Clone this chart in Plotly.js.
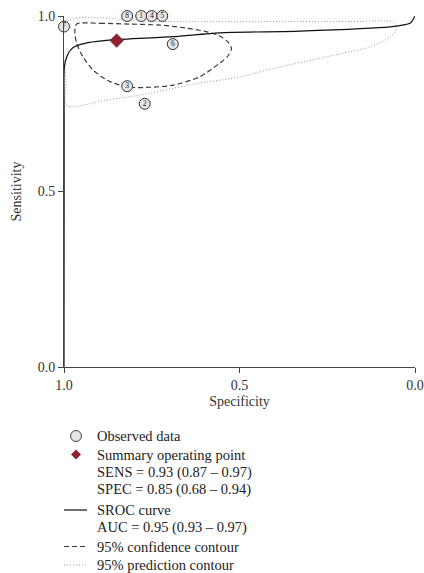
<!DOCTYPE html>
<html>
<head>
<meta charset="utf-8">
<script src="https://cdn.plot.ly/plotly-3.0.1.min.js"></script>
<style>html,body{margin:0;padding:0;background:#fff;}#chart{width:424px;height:573px;}</style>
</head>
<body>
<div id="chart"></div>
<script>
// Observed studies
const studyLabels = ['1','2','3','4','5','6','7','8'];
const studySpec   = [0.78, 0.77, 0.82, 0.75, 0.72, 0.69, 1.00, 0.82];
const studySens   = [1.00, 0.75, 0.80, 1.00, 1.00, 0.92, 0.97, 1.00];

// Summary operating point
const summarySpec = [0.85];
const summarySens = [0.93];

// SROC curve
const srocSpec = [1.000, 0.9995, 0.999, 0.992, 0.983, 0.969, 0.931, 0.864, 0.689, 0.556, 0.328, 0.071, 0.014, 0.000];
const srocSens = [0.000, 0.700, 0.855, 0.884, 0.901, 0.913, 0.924, 0.932, 0.941, 0.952, 0.957, 0.969, 0.979, 1.000];

// 95% confidence contour
const confSpec = [0.964, 0.897, 0.812, 0.726, 0.655, 0.593, 0.556, 0.533, 0.523, 0.533, 0.556, 0.613, 0.689, 0.755, 0.812, 0.869, 0.917, 0.946, 0.964, 0.969, 0.964];
const confSens = [0.977, 0.979, 0.977, 0.974, 0.966, 0.955, 0.943, 0.926, 0.908, 0.886, 0.866, 0.827, 0.803, 0.797, 0.797, 0.813, 0.846, 0.884, 0.923, 0.952, 0.977];

// 95% prediction contour
const predSpec = [0.993, 0.755, 0.470, 0.185, 0.060, 0.052, 0.071, 0.128, 0.205, 0.423, 0.499, 0.613, 0.783, 0.878, 0.992, 0.994, 0.993];
const predSens = [0.983, 0.984, 0.984, 0.984, 0.982, 0.966, 0.940, 0.912, 0.894, 0.846, 0.826, 0.809, 0.775, 0.761, 0.744, 0.818, 0.983];

// Legend text lines (key type per line: circle, diamond, none, solid, dash, dot)
const legendLines = [
  'Observed data',
  'Summary operating point',
  'SENS = 0.93 (0.87 \u2013 0.97)',
  'SPEC = 0.85 (0.68 \u2013 0.94)',
  'SROC curve',
  'AUC = 0.95 (0.93 \u2013 0.97)',
  '95% confidence contour',
  '95% prediction contour'
];
const legendKeys = ['circle', 'diamond', '', '', 'solid', '', 'dash', 'dot'];

const FONT = 'Liberation Serif, Times New Roman, serif';
const W = 424, H = 573;
const M = {l: 64, r: 9, t: 16, b: 206};
const PW = W - M.l - M.r, PH = H - M.t - M.b;
const px2x = p => (p - M.l) / PW;
const py2y = p => (H - M.b - p) / PH;

const traces = [
  {x: predSpec, y: predSens, type: 'scatter', mode: 'lines',
   line: {color: '#9a9a9a', width: 1, dash: '1px,2px', shape: 'spline', smoothing: 0.8}, cliponaxis: false},
  {x: confSpec, y: confSens, type: 'scatter', mode: 'lines',
   line: {color: '#3a3a3a', width: 1.2, dash: '5px,3px', shape: 'spline', smoothing: 0.8}, cliponaxis: false},
  {x: srocSpec, y: srocSens, type: 'scatter', mode: 'lines',
   line: {color: '#111', width: 1.2, shape: 'spline', smoothing: 0.6}, cliponaxis: false},
  {x: studySpec, y: studySens, type: 'scatter', mode: 'markers',
   marker: {symbol: 'circle', size: 11, color: '#e4e4e4', line: {color: '#333', width: 1}}, cliponaxis: false},
  {x: studySpec, y: studySens, text: studyLabels, type: 'scatter', mode: 'text',
   textposition: 'middle center', textfont: {family: FONT, size: 7.5, color: '#222'},
   cliponaxis: false, hoverinfo: 'skip'},
  {x: summarySpec, y: summarySens, type: 'scatter', mode: 'markers',
   marker: {symbol: 'diamond', size: 11, color: '#8b2330'}, cliponaxis: false}
];

// Legend layout (pixel rows)
const rowY = [436, 454.5, 472, 489.5, 510, 527.5, 546.5, 565];
const keyX = 76, keyL = 64, keyR = 87, textX = 95;
const annotations = legendLines.map((t, i) => ({
  text: t, xref: 'paper', yref: 'paper', x: px2x(textX), y: py2y(rowY[i]),
  xanchor: 'left', yanchor: 'middle', showarrow: false,
  font: {family: FONT, size: 14.5, color: '#222'}
}));
const shapes = [];
legendKeys.forEach((k, i) => {
  const cy = rowY[i];
  if (k === 'circle') {
    shapes.push({type: 'circle', xref: 'paper', yref: 'paper',
      x0: px2x(keyX - 5.5), x1: px2x(keyX + 5.5), y0: py2y(cy + 5.5), y1: py2y(cy - 5.5),
      fillcolor: '#e4e4e4', line: {color: '#444', width: 1}});
  } else if (k === 'diamond') {
    const d = 5;
    shapes.push({type: 'path', xref: 'paper', yref: 'paper',
      path: `M ${px2x(keyX - d)} ${py2y(cy)} L ${px2x(keyX)} ${py2y(cy - d)} L ${px2x(keyX + d)} ${py2y(cy)} L ${px2x(keyX)} ${py2y(cy + d)} Z`,
      fillcolor: '#8b2330', line: {width: 0}});
  } else if (k) {
    const dash = k === 'solid' ? 'solid' : (k === 'dash' ? '5px,3px' : '1px,2px');
    const col = k === 'dot' ? '#9a9a9a' : (k === 'dash' ? '#3a3a3a' : '#111');
    shapes.push({type: 'line', xref: 'paper', yref: 'paper',
      x0: px2x(keyL), x1: px2x(keyR), y0: py2y(cy), y1: py2y(cy),
      line: {color: col, width: k === 'dot' ? 1 : 1.2, dash: dash}});
  }
});

const layout = {
  width: W, height: H,
  margin: {l: M.l, r: M.r, t: M.t, b: M.b, autoexpand: false},
  paper_bgcolor: '#fff', plot_bgcolor: '#fff',
  font: {family: FONT, size: 14, color: '#333'},
  showlegend: false,
  annotations: annotations,
  shapes: shapes,
  xaxis: {
    range: [1, 0], tickvals: [1, 0.5, 0], ticktext: ['1.0', '0.5', '0.0'],
    showline: true, linecolor: '#444', linewidth: 1, ticks: 'outside', ticklen: 5, tickcolor: '#444',
    showgrid: false, zeroline: false, tickfont: {family: FONT, size: 14, color: '#333'},
    title: {text: 'Specificity', font: {family: FONT, size: 14, color: '#333'}, standoff: 4}
  },
  yaxis: {
    range: [0, 1], tickvals: [0, 0.5, 1], ticktext: ['0.0', '0.5', '1.0'],
    showline: true, linecolor: '#444', linewidth: 1, ticks: 'outside', ticklen: 5, tickcolor: '#444',
    showgrid: false, zeroline: false, tickfont: {family: FONT, size: 14, color: '#333'},
    title: {text: 'Sensitivity', font: {family: FONT, size: 14, color: '#333'}, standoff: 12}
  }
};

Plotly.newPlot('chart', traces, layout, {displayModeBar: false, staticPlot: true});
</script>
</body>
</html>
